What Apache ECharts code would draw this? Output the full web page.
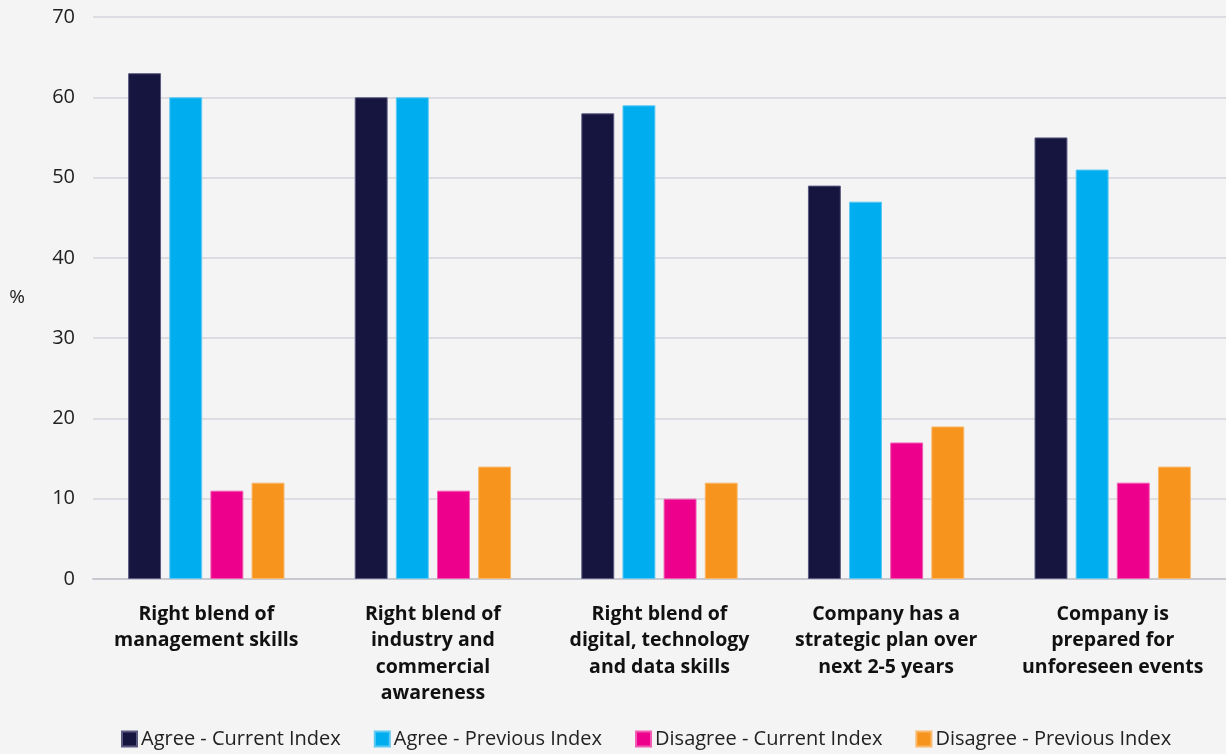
<!DOCTYPE html>
<html><head><meta charset="utf-8">
<script src="https://cdn.jsdelivr.net/npm/echarts@6/dist/echarts.min.js"></script>
<style>html,body{margin:0;padding:0;background:#f4f4f4;}#c{width:1226px;height:754px;}</style>
</head><body><div id="c"></div>
<script>
const categories = [
  "Right blend of\nmanagement skills",
  "Right blend of\nindustry and\ncommercial\nawareness",
  "Right blend of\ndigital, technology\nand data skills",
  "Company has a\nstrategic plan over\nnext 2-5 years",
  "Company is\nprepared for\nunforeseen events"
];
const seriesNames = ["Agree - Current Index", "Agree - Previous Index", "Disagree - Current Index", "Disagree - Previous Index"];
const agreeCurrent = [63, 60, 58, 49, 55];
const agreePrevious = [60, 60, 59, 47, 51];
const disagreeCurrent = [11, 11, 10, 17, 12];
const disagreePrevious = [12, 14, 12, 19, 14];
const colors = ["#16153f", "#00aeef", "#ec008c", "#f7941d"];
const borders = ["#5a5980", "#5cc9f3", "#f35cb3", "#f9b86a"];
const dataSets = [agreeCurrent, agreePrevious, disagreeCurrent, disagreePrevious];

const chart = echarts.init(document.getElementById('c'));
const font = '"Open Sans", Lato, sans-serif';
chart.setOption({
  backgroundColor: '#f4f4f4',
  animation: false,
  textStyle: { fontFamily: font },
  grid: { left: 93, right: 0, top: 17, bottom: 175, containLabel: false },
  legend: {
    bottom: 0, left: 116,
    itemWidth: 15, itemHeight: 15, itemGap: 33,
    icon: 'rect',
    textStyle: { fontSize: 20, color: '#222', fontFamily: font, padding: [0, 0, 0, -1] },
    data: seriesNames
  },
  xAxis: {
    type: 'category',
    data: categories,
    axisLine: { lineStyle: { color: '#c8c8d0', width: 2 } },
    axisTick: { show: false },
    axisLabel: { interval: 0, fontSize: 19.5, fontWeight: 'bold', color: '#111', lineHeight: 26.5, margin: 22, fontFamily: font }
  },
  yAxis: {
    type: 'value', min: 0, max: 70, interval: 10,
    name: '%', nameLocation: 'middle', nameRotate: 0, nameGap: 68,
    nameTextStyle: { fontSize: 19, color: '#222', fontFamily: font },
    axisLine: { show: false }, axisTick: { show: false },
    axisLabel: { fontSize: 20, color: '#222', margin: 18, fontFamily: font },
    splitLine: { lineStyle: { color: '#d4d4dc', width: 1.5 } }
  },
  series: seriesNames.map((n, i) => ({
    name: n, type: 'bar', data: dataSets[i],
    barGap: '25%', barCategoryGap: '31%',
    itemStyle: { color: colors[i], borderColor: borders[i], borderWidth: 1 }
  }))
});
</script></body></html>
